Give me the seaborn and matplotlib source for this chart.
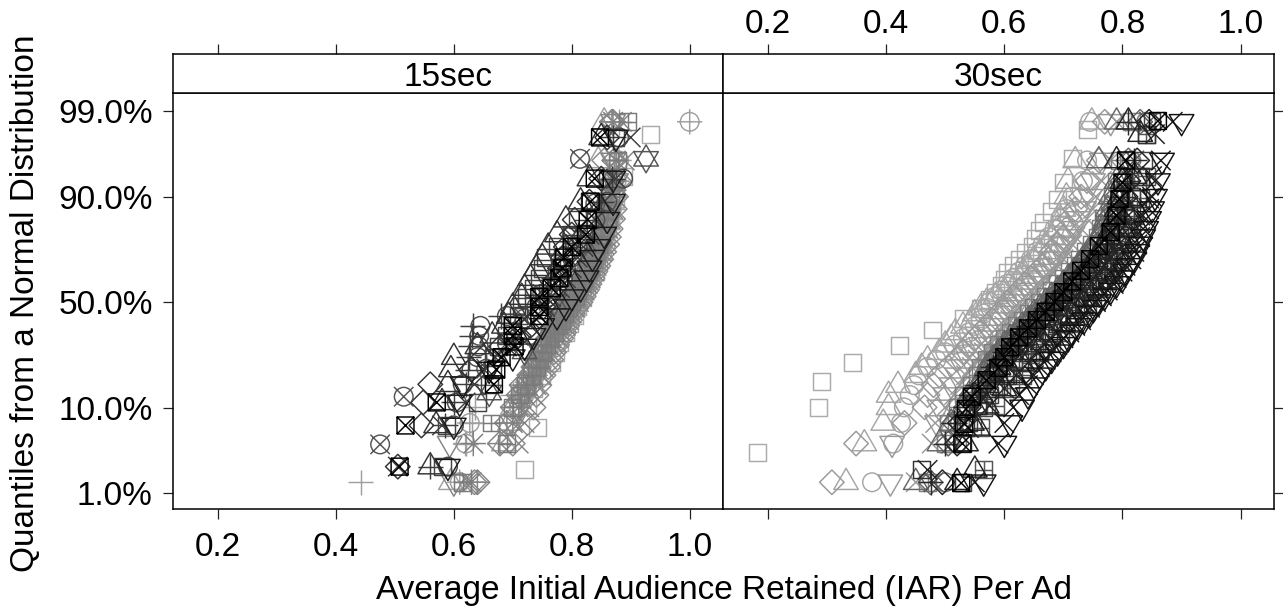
import matplotlib
matplotlib.use("Agg")
import matplotlib.pyplot as plt
import seaborn as sns
from matplotlib.path import Path

# quantile rows (normal scores) shared by the series
q35 = [-2.19,-1.72,-1.47,-1.28,-1.13,-1.01,-.89,-.79,-.70,-.61,-.52,-.44,-.37,-.29,-.22,-.14,-.07,0,
       .07,.14,.22,.29,.37,.44,.52,.61,.70,.79,.89,1.01,1.13,1.28,1.47,1.72,2.19]
q24 = [-2.04,-1.53,-1.26,-1.05,-.89,-.74,-.61,-.49,-.37,-.26,-.16,-.05,.05,.16,.26,.37,.49,.61,.74,.89,1.05,1.26,1.53,2.04]
q22 = [-2.0,-1.5,-1.22,-1.0,-.82,-.67,-.54,-.41,-.29,-.17,-.06,.06,.17,.29,.41,.54,.67,.82,1.0,1.22,1.5,2.0]

# 15sec panel
l_square = [.72,.742,.725,.735,.748,.765,.772,.78,.79,.797,.805,.81,.818,.825,.832,.84,.846,.852,.857,.861,.866,.875,.887,.933]
l_up_gray = [.595,.685,.695,.70,.71,.72,.725,.735,.74,.745,.75,.755,.765,.77,.775,.78,.788,.795,.80,.805,.81,.815,.82,.825,.83,.835,.84,.845,.85,.853,.856,.86,.865,.845,.855]
l_circleplus = [.61,.62,.627,.71,.72,.73,.738,.745,.75,.757,.763,.77,.777,.782,.788,.793,.80,.806,.812,.818,.823,.828,.833,.838,.843,.848,.852,.856,.86,.864,.868,.872,.876,.88,1.0]
l_plus_gray = [.442,.62,.63,.636,.70,.72,.73,.74,.748,.755,.76,.768,.773,.78,.785,.79,.798,.803,.81,.815,.82,.825,.83,.835,.84,.845,.85,.855,.86,.865,.868,.87,.875,.875,.88]
l_diamond_gray = [.635,.70,.725,.735,.74,.745,.752,.76,.765,.77,.775,.782,.787,.792,.797,.802,.808,.815,.82,.825,.83,.835,.84,.845,.85,.855,.86,.863,.866,.87,.873,.875,.88,.855,.87]
l_x_gray = [.625,.71,.72,.728,.735,.74,.748,.752,.758,.763,.77,.778,.783,.79,.795,.80,.806,.812,.817,.822,.827,.832,.838,.842,.847,.851,.855,.859,.862,.866,.87,.873,.876,.89,.885]
l_star = [.63,.633,.70,.71,.72,.725,.735,.74,.748,.755,.76,.765,.773,.778,.783,.79,.795,.80,.806,.812,.818,.823,.828,.832,.837,.842,.847,.85,.855,.858,.862,.866,.87,.875,.87]
l_diamondplus = [.64,.678,.69,.70,.71,.715,.728,.735,.74,.748,.753,.76,.768,.773,.78,.785,.79,.798,.803,.808,.814,.82,.825,.83,.835,.84,.845,.85,.853,.857,.86,.864,.868,.872,.868]
l_down_gray = [.60,.593,.70,.712,.72,.727,.737,.743,.75,.755,.762,.768,.775,.78,.786,.792,.798,.804,.81,.816,.822,.828,.832,.838,.842,.846,.85,.854,.858,.862,.866,.87,.875,.87,.87]
l_squareplus = [.615,.69,.663,.70,.712,.722,.732,.74,.745,.75,.757,.763,.77,.776,.782,.788,.794,.80,.806,.81,.816,.82,.826,.83,.835,.84,.845,.85,.855,.86,.862,.866,.87,.878,.895]
l_circlex = [.475,.515,.655,.69,.72,.75,.78,.80,.84,.814]
l_circlex_q = [-1.73,-1.15,-.81,-.5,-.2,.1,.4,.8,1.2,1.74]
l_updown = [.66,.72,.77,.82,.926]
l_updown_q = [-1.1,-.6,0,.7,1.74]
l_circle = [.59,.60,.605,.615,.63,.64,.642,.643,.645,.69,.74,.76,.775,.785,.79,.80,.81,.82,.84,.86,.887,.88]
l_x = [.505,.58,.62,.635,.651,.67,.69,.71,.73,.745,.755,.765,.78,.79,.80,.81,.82,.83,.84,.855,.875,.90]
l_plus = [.56,.585,.60,.62,.624,.625,.628,.63,.632,.68,.72,.745,.76,.77,.78,.79,.80,.81,.825,.85,.869,.87]
l_squaredark = [.58,.587,.64,.66,.665,.668,.675,.69,.70,.71,.715,.724,.735,.745,.75,.755,.775,.80,.81,.83,.86,.875]
l_diamond = [.505,.545,.548,.56,.63,.65,.68,.71,.73,.745,.752,.76,.77,.775,.78,.785,.79,.80,.805,.83,.85,.86]
l_up = [.56,.57,.58,.59,.595,.60,.64,.665,.685,.693,.70,.715,.72,.73,.74,.75,.76,.775,.79,.815,.83,.85]
l_down = [.59,.60,.61,.615,.66,.70,.72,.735,.75,.775,.79,.80,.815,.825,.83,.835,.845,.855,.86,.87,.87,.875]
l_squarex = [.508,.518,.571,.668,.672,.681,.703,.70,.70,.745,.745,.745,.766,.779,.784,.787,.80,.824,.827,.832,.839,.848]

# 30sec panel
r_square_q = [-1.83,-1.28,-.97,-.73,-.53,-.34,-.2,-.08,.03,.12,.2,.28,.36,.44,.52,.6,.68,.77,.87,.97,1.1,1.25,1.45,1.75,2.1]
r_square = [.182,.285,.291,.343,.422,.479,.53,.56,.575,.585,.595,.60,.605,.615,.625,.635,.647,.652,.66,.667,.68,.69,.70,.715,.74]
r_up_light = [.332,.363,.395,.404,.404,.42,.45,.46,.47,.49,.50,.51,.517,.53,.545,.55,.56,.57,.585,.60,.61,.625,.632,.64,.65,.66,.67,.68,.69,.695,.70,.705,.708,.72,.748]
r_circle = [.376,.412,.425,.43,.44,.447,.455,.47,.485,.50,.515,.53,.54,.55,.56,.565,.57,.575,.585,.595,.605,.615,.625,.635,.645,.655,.665,.675,.685,.695,.705,.715,.733,.74,.745]
r_diamond_light = [.308,.349,.431,.465,.47,.48,.49,.505,.52,.53,.54,.55,.56,.57,.58,.59,.60,.605,.615,.625,.635,.645,.655,.665,.675,.68,.69,.70,.705,.71,.72,.73,.74,.76,.77]
r_down_light = [.407,.41,.486,.49,.50,.51,.52,.53,.54,.55,.56,.57,.575,.585,.595,.605,.61,.62,.63,.64,.65,.66,.67,.675,.685,.695,.70,.71,.72,.725,.735,.745,.75,.765,.78]
r_x_light = [.45,.477,.483,.50,.515,.525,.535,.545,.555,.565,.575,.58,.59,.60,.61,.615,.625,.635,.645,.655,.66,.67,.68,.69,.70,.705,.715,.72,.73,.74,.75,.755,.765,.78,.79]
r_squareplus = [.47,.50,.505,.52,.53,.545,.555,.56,.57,.58,.59,.60,.61,.62,.63,.64,.65,.66,.67,.68,.69,.70,.71,.72,.728,.738,.748,.758,.763,.768,.778,.783,.79,.795,.815]
r_up_mid = [.45,.49,.51,.53,.54,.555,.565,.57,.58,.59,.60,.61,.62,.63,.64,.65,.66,.67,.68,.69,.70,.708,.718,.725,.733,.742,.752,.76,.766,.772,.775,.78,.79,.76,.79]
r_diamond_mid = [.475,.505,.515,.535,.545,.56,.57,.575,.585,.595,.605,.615,.625,.635,.645,.655,.665,.675,.685,.695,.705,.715,.725,.73,.74,.75,.758,.765,.77,.775,.785,.79,.80,.81,.83]
r_circle_mid = [.50,.52,.525,.54,.55,.565,.575,.58,.59,.60,.61,.62,.63,.64,.648,.66,.668,.678,.688,.70,.71,.72,.728,.736,.745,.755,.765,.772,.778,.784,.79,.795,.805,.815,.84]
r_x_mid = [.48,.51,.52,.545,.56,.572,.585,.595,.605,.615,.625,.635,.645,.655,.665,.675,.685,.695,.705,.715,.725,.735,.745,.75,.76,.77,.78,.785,.79,.795,.80,.805,.815,.82,.845]
r_squareplus2 = [.565,.56,.585,.61,.63,.645,.66,.68,.695,.71,.725,.74,.75,.765,.78,.785,.795,.80,.81,.815,.82,.83,.84,.84]
r_squaredark = [.53,.53,.54,.565,.575,.59,.60,.61,.615,.63,.64,.65,.66,.67,.68,.69,.70,.71,.72,.73,.74,.75,.755,.765,.775,.785,.79,.795,.80,.805,.81,.815,.825,.835,.85]
r_square2 = [.46,.535,.555,.585,.605,.625,.64,.655,.675,.69,.705,.72,.735,.745,.76,.77,.775,.785,.795,.805,.815,.825,.83,.84]
r_up = [.52,.535,.545,.55,.56,.57,.58,.59,.60,.61,.62,.63,.64,.65,.66,.67,.68,.69,.70,.71,.72,.73,.74,.745,.755,.76,.77,.775,.78,.785,.79,.795,.80,.79,.81]
r_up2 = [.55,.555,.57,.60,.615,.63,.65,.665,.68,.70,.715,.73,.74,.755,.77,.775,.785,.79,.80,.80,.81,.81,.82,.83]
r_diamond = [.495,.52,.525,.54,.55,.565,.58,.59,.60,.61,.62,.63,.64,.65,.66,.67,.68,.69,.70,.71,.72,.73,.74,.75,.76,.77,.78,.785,.79,.795,.80,.805,.81,.825,.845]
r_plus = [.475,.50,.515,.535,.545,.555,.57,.58,.59,.60,.612,.622,.632,.642,.652,.662,.672,.682,.692,.702,.712,.722,.732,.742,.752,.762,.772,.78,.785,.79,.795,.80,.808,.82,.81]
r_down = [.565,.60,.61,.63,.64,.65,.66,.67,.68,.69,.70,.708,.715,.725,.735,.745,.752,.76,.77,.78,.79,.80,.805,.81,.82,.825,.83,.835,.84,.845,.85,.855,.86,.867,.90]
r_x = [.55,.59,.60,.615,.625,.64,.65,.66,.67,.68,.69,.70,.71,.72,.73,.735,.745,.755,.765,.775,.785,.79,.80,.805,.815,.82,.825,.83,.835,.84,.845,.85,.855,.865,.885]
r_x2 = [.47,.54,.575,.60,.62,.64,.655,.67,.69,.70,.715,.735,.745,.76,.77,.78,.79,.80,.81,.82,.83,.845,.85,.855]
r_squarex = [.527,.529,.532,.535,.545,.57,.59,.60,.61,.625,.64,.655,.67,.685,.70,.715,.73,.745,.76,.78,.79,.795,.80,.806,.86]
r_squarex_q = [-2.2,-1.72,-1.48,-1.3,-1.15,-.95,-.8,-.67,-.55,-.43,-.32,-.22,-.12,0,.12,.25,.38,.52,.68,.85,1.05,1.25,1.45,1.72,2.2]

# marker geometry in square half-widths (R pch shapes); R keeps scale equal
R = 1.8

def poly(*pts):
    return Path(list(pts) + [pts[0]], closed=True)

def seg(*pairs):
    v, c = [], []
    for a, b in pairs:
        v += [a, b]
        c += [Path.MOVETO, Path.LINETO]
    return Path(v, c)

def join(*parts):
    return Path.make_compound_path(*parts, Path([(R, R)], [Path.MOVETO]))

sq = poly((-1, -1), (1, -1), (1, 1), (-1, 1))
up = poly((-1.45, -.85), (1.45, -.85), (0, 1.65))
dn = poly((-1.45, .85), (1.45, .85), (0, -1.65))
dm = poly((-1.45, 0), (0, -1.45), (1.45, 0), (0, 1.45))
ci = Path(Path.unit_circle().vertices * 1.1, Path.unit_circle().codes)
plus = seg(((-1.5, 0), (1.5, 0)), ((0, -1.5), (0, 1.5)))
ex = seg(((-1.15, -1.15), (1.15, 1.15)), ((-1.15, 1.15), (1.15, -1.15)))
sqx = seg(((-1, -1), (1, 1)), ((-1, 1), (1, -1)))
plus_small = seg(((-1, 0), (1, 0)), ((0, -1), (0, 1)))

MARKERS = {
    "square": join(sq), "up": join(up), "down": join(dn), "diamond": join(dm), "circle": join(ci),
    "plus": join(plus), "x": join(ex), "star": join(plus, ex),
    "squarex": join(sq, sqx), "squareplus": join(sq, plus_small),
    "diamondplus": join(dm, seg(((-1.45, 0), (1.45, 0)), ((0, -1.45), (0, 1.45)))),
    "circleplus": join(ci, plus), "circlex": join(ci, ex), "updown": join(up, dn),
}

left_series = [
    (l_up_gray, q35, "up", "#a0a0a0"), (l_circleplus, q35, "circleplus", "#a0a0a0"),
    (l_plus_gray, q35, "plus", "#a0a0a0"), (l_square, q24, "square", "#ababab"),
    (l_diamond_gray, q35, "diamond", "#8c8c8c"), (l_x_gray, q35, "x", "#858585"),
    (l_star, q35, "star", "#808080"), (l_diamondplus, q35, "diamondplus", "#858585"),
    (l_down_gray, q35, "down", "#858585"), (l_squareplus, q35, "squareplus", "#7a7a7a"),
    (l_circlex, l_circlex_q, "circlex", "#555555"), (l_updown, l_updown_q, "updown", "#555555"),
    (l_circle, q22, "circle", "#4d4d4d"), (l_plus, q22, "plus", "#3d3d3d"),
    (l_x, q22, "x", "#3d3d3d"), (l_squaredark, q22, "square", "#444444"),
    (l_diamond, q22, "diamond", "#333333"), (l_up, q22, "up", "#333333"),
    (l_down, q22, "down", "#1a1a1a"), (l_squarex, q22, "squarex", "#000000"),
]
right_series = [
    (r_square, r_square_q, "square", "#ababab"), (r_up_light, q35, "up", "#a6a6a6"),
    (r_circle, q35, "circle", "#a6a6a6"), (r_diamond_light, q35, "diamond", "#999999"),
    (r_down_light, q35, "down", "#999999"), (r_x_light, q35, "x", "#999999"),
    (r_squareplus, q35, "squareplus", "#808080"), (r_circle_mid, q35, "circle", "#777777"),
    (r_up_mid, q35, "up", "#666666"), (r_diamond_mid, q35, "diamond", "#666666"),
    (r_x_mid, q35, "x", "#555555"), (r_squareplus2, q24, "squareplus", "#555555"),
    (r_squaredark, q35, "square", "#444444"), (r_square2, q24, "square", "#333333"),
    (r_plus, q35, "plus", "#2b2b2b"), (r_up, q35, "up", "#222222"), (r_up2, q24, "up", "#222222"),
    (r_diamond, q35, "diamond", "#222222"), (r_x, q35, "x", "#1a1a1a"), (r_x2, q24, "x", "#222222"),
    (r_down, q35, "down", "#111111"), (r_squarex, r_squarex_q, "squarex", "#000000"),
]

x_ticks = [0.2, 0.4, 0.6, 0.8, 1.0]
x_labels = ["0.2", "0.4", "0.6", "0.8", "1.0"]
y_ticks = [-2.326, -1.282, 0, 1.282, 2.326]
y_labels = ["1.0%", "10.0%", "50.0%", "90.0%", "99.0%"]
panels = ["15sec", "30sec"]

sns.set_theme(style="white")
plt.rcParams["font.family"] = ["Liberation Sans", "DejaVu Sans"]
FS = 24
W, H = 1283, 613

fig = plt.figure(figsize=(W / 100, H / 100), dpi=100)

def box(x0, y0, x1, y1):
    return fig.add_axes([x0 / W, (H - y1) / H, (x1 - x0) / W, (y1 - y0) / H])

ax_l = box(173, 93, 723, 509)
ax_r = box(723, 93, 1274, 509)
st_l = box(173, 54, 723, 93)
st_r = box(723, 54, 1274, 93)

for ax, series in [(ax_l, left_series), (ax_r, right_series)]:
    for xs, qs, mk, col in series:
        sns.scatterplot(x=xs, y=qs, marker=MARKERS[mk], s=482, facecolors="none", edgecolor=col,
                        linewidth=1.05, ax=ax, legend=False, clip_on=True)
    ax.set_xlim(0.1237, 1.0565)
    ax.set_ylim(-2.515, 2.54)
    ax.set_xticks(x_ticks)
    ax.set_yticks(y_ticks)
    ax.set_xlabel("")
    ax.set_ylabel("")

ax_l.set_xticklabels(x_labels)
ax_l.set_yticklabels(y_labels)
ax_l.tick_params(axis="x", direction="out", length=7.5, width=0.9, color="#222222",
                 labelsize=FS, pad=9, bottom=True, labelcolor="black")
ax_l.tick_params(axis="y", direction="out", length=7.5, width=0.9, color="#222222",
                 labelsize=FS, pad=7, left=True, labelcolor="black")
ax_r.tick_params(axis="both", which="major", direction="out", length=7.5, width=0.9, color="#222222",
                 left=False, right=True, bottom=True, labelleft=False, labelbottom=False)

for st, name in zip([st_l, st_r], panels):
    st.set_xlim(0.1237, 1.0565)
    st.set_ylim(0, 1)
    st.set_yticks([])
    st.set_xticks(x_ticks)
    st.text(0.5, 0.41, name, transform=st.transAxes, ha="center", va="center", fontsize=FS, color="black")
st_l.tick_params(axis="x", direction="out", length=7.5, width=0.9, color="#222222", top=True, bottom=False,
                 labeltop=False, labelbottom=False)
st_r.xaxis.set_ticks_position("top")
st_r.set_xticklabels(x_labels)
st_r.tick_params(axis="x", direction="out", length=7.5, width=0.9, color="#222222", top=True, bottom=False,
                 labeltop=True, labelbottom=False, labelsize=FS, pad=2.5, labelcolor="black")

for ax in [ax_l, ax_r, st_l, st_r]:
    for sp in ax.spines.values():
        sp.set_visible(True)
        sp.set_color("black")
        sp.set_linewidth(1.1)

fig.text(724 / W, 1 - 590 / H, "Average Initial Audience Retained (IAR) Per Ad", ha="center", va="center",
         fontsize=FS, color="black")
fig.text(26 / W, 1 - 303 / H, "Quantiles from a Normal Distribution", ha="center", va="center",
         rotation=90, fontsize=FS, color="black")

fig.savefig("out.png", dpi=100)
